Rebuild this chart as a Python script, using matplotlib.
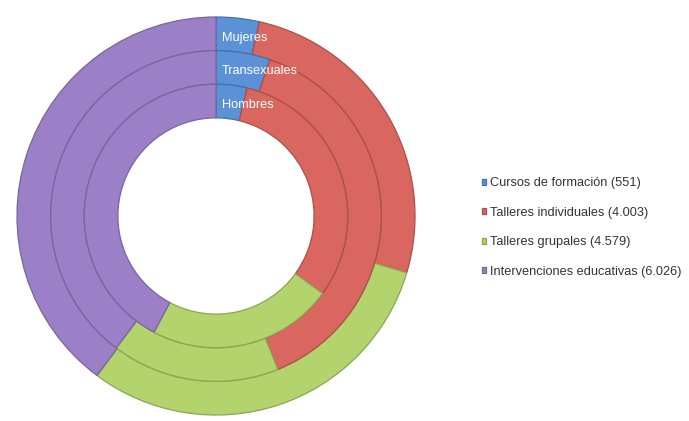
import numpy as np
import matplotlib
matplotlib.use("Agg")
import matplotlib.pyplot as plt
import matplotlib.colors as mcolors

# ── Data: share (%) of each activity per group, outer to inner ring ─────────
categories = ["Cursos de formación", "Talleres individuales",
              "Talleres grupales", "Intervenciones educativas"]
totals = ["551", "4.003", "4.579", "6.026"]
groups = ["Mujeres", "Transexuales", "Hombres"]
mujeres = [3.5, 26.1, 30.6, 39.8]
transexuales = [5.3, 38.6, 16.4, 39.7]
hombres = [3.8, 31.2, 22.8, 42.2]

colors = ["#5b91d6", "#d9675f", "#b3d36c", "#9b80c8"]

def darker(c, f=0.78):
    r, g, b = mcolors.to_rgb(c)
    return (r * f, g * f, b * f)

plt.rcParams["font.family"] = ["Liberation Sans", "DejaVu Sans"]

W, H = 689, 421
fig = plt.figure(figsize=(W / 100, H / 100), dpi=100)

# donut centred at (216, 216) px, outer radius 201 px
cx, cy, R = 216, 216, 201
ax = fig.add_axes([(cx - R) / W, (H - cy - R) / H, 2 * R / W, 2 * R / H])

ring_w = 0.169
radii = [1.0, 1.0 - ring_w, 1.0 - 2 * ring_w]
rings = [mujeres, transexuales, hombres]

outer_wedges = None
for vals, r in zip(rings, radii):
    wedges, _ = ax.pie(vals, radius=r, startangle=90, counterclock=False,
                       colors=colors,
                       wedgeprops=dict(width=ring_w, linewidth=0.9))
    for w, c in zip(wedges, colors):
        w.set_edgecolor(darker(c))
    if outer_wedges is None:
        outer_wedges = wedges

# group names written inside the blue segment of each ring
for name, r in zip(groups, radii):
    ax.text(0.03, r - ring_w / 2 - 0.02, name, color="white", fontsize=9.2,
            ha="left", va="center")

ax.set_xlim(-1.01, 1.01)
ax.set_ylim(-1.01, 1.01)
ax.set_aspect("equal")
ax.axis("off")

labels = [f"{c} ({t})" for c, t in zip(categories, totals)]
fig.legend(outer_wedges, labels, loc="upper left",
           bbox_to_anchor=(482 / W, 1 - 177.5 / H), frameon=False,
           fontsize=9.2, labelcolor="#333333",
           handlelength=0.35, handleheight=0.35, handletextpad=0.25,
           labelspacing=1.36, borderpad=0, borderaxespad=0)

fig.savefig("out.png", dpi=100, facecolor="white")
